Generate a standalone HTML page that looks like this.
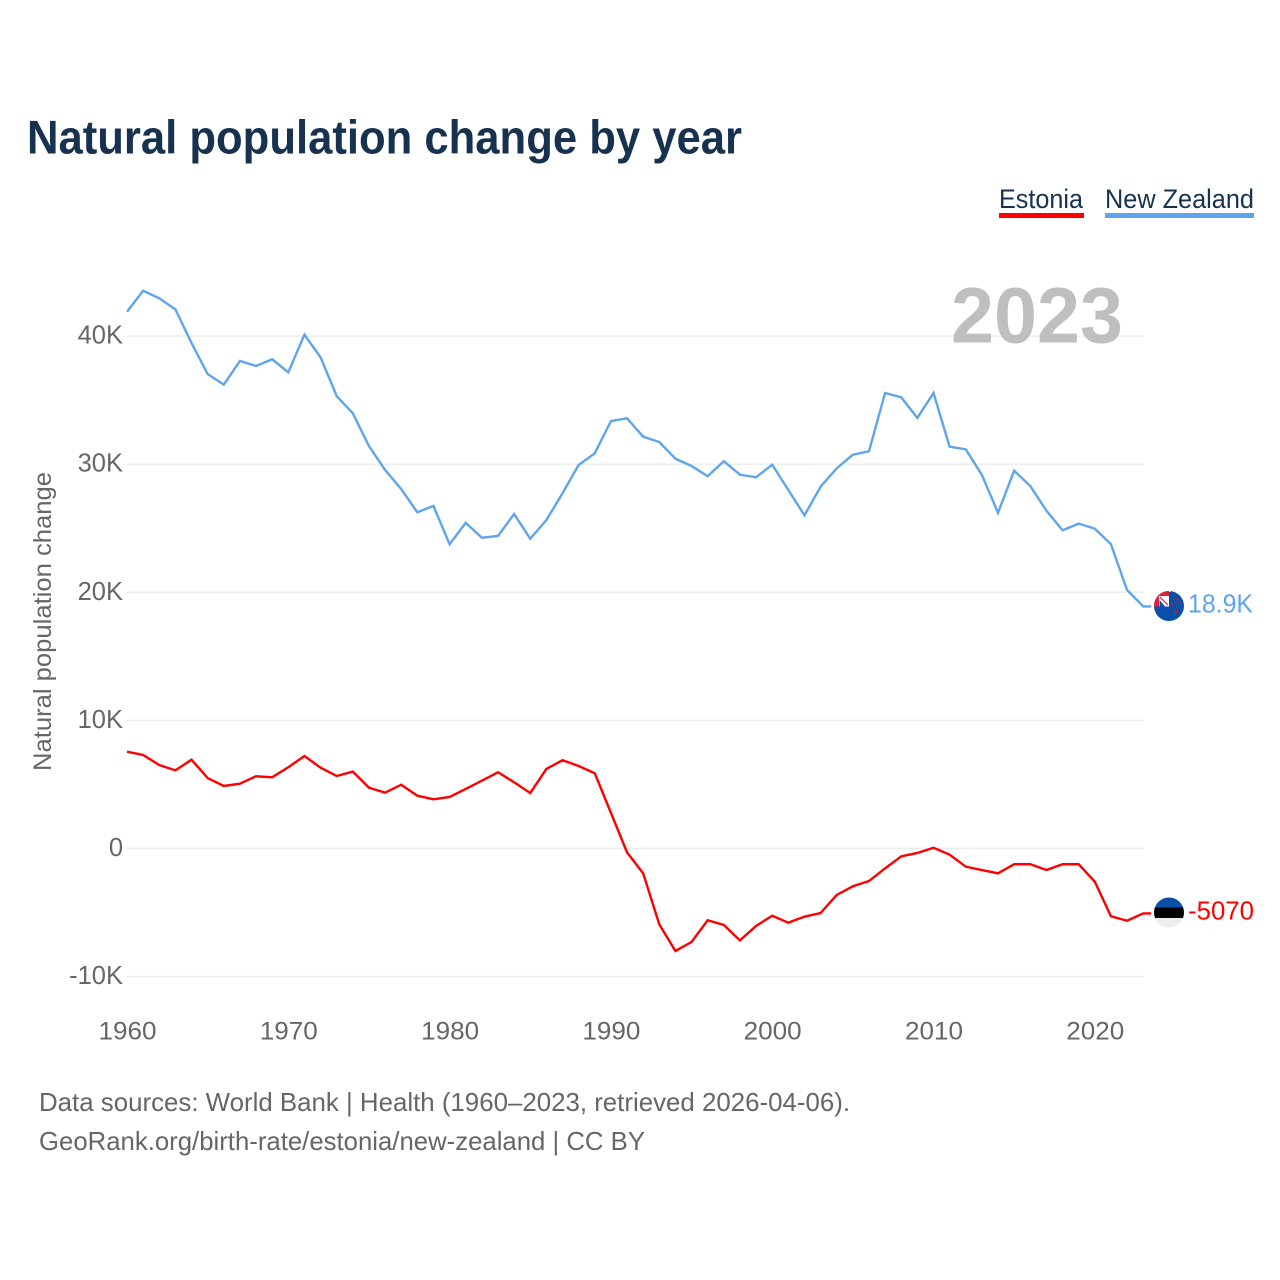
<!DOCTYPE html>
<html lang="en">
<head>
<meta charset="utf-8">
<title>Natural population change by year</title>
<style>
html,body{margin:0;padding:0;background:#fff;}
svg{display:block;font-family:"Liberation Sans",sans-serif;}
</style>
</head>
<body>
<svg id="chart" width="1280" height="1280" viewBox="0 0 1280 1280" xmlns="http://www.w3.org/2000/svg">
  <defs>
    <clipPath id="flag-clip-nz"><circle cx="1169" cy="606" r="15"/></clipPath>
    <clipPath id="flag-clip-ee"><circle cx="1169" cy="912.5" r="15"/></clipPath>
  </defs>
  <text x="27" y="153.5" font-size="47" font-weight="700" fill="#17324f" textLength="715" lengthAdjust="spacingAndGlyphs">Natural population change by year</text>

  <g>
    <g>
      <text x="999" y="208" font-size="27" fill="#17324f" textLength="84" lengthAdjust="spacingAndGlyphs">Estonia</text>
      <rect x="999" y="213" width="85" height="5" fill="#ff0000"/>
    </g>
    <g>
      <text x="1105" y="208" font-size="27" fill="#17324f" textLength="149" lengthAdjust="spacingAndGlyphs">New Zealand</text>
      <rect x="1105" y="213" width="149" height="5" fill="#5fa5ec"/>
    </g>
  </g>

  <g id="grid"></g>
  <g id="y-ticks"></g>
  <g id="x-ticks"></g>

  <text transform="translate(51,771) rotate(-90)" font-size="25" fill="#666666" textLength="299" lengthAdjust="spacingAndGlyphs">Natural population change</text>

  <text x="951" y="342.5" font-size="79" font-weight="700" fill="#bfbfbf" textLength="172" lengthAdjust="spacingAndGlyphs">2023</text>

  <g id="series"></g>

  <g clip-path="url(#flag-clip-nz)">
    <rect x="1153" y="590" width="32" height="32" fill="#0b50a8"/>
    <rect x="1168.5" y="590" width="2" height="2" fill="#ffffff"/>
    <rect x="1153" y="591" width="16" height="15.5" fill="#e0203a"/>
    <rect x="1159" y="596" width="10" height="10.5" fill="#ffffff"/>
    <path d="M1159.5 600L1159.5 606.5L1165 606.5Z" fill="#0b50a8"/>
    <path d="M1160 597L1168 605" stroke="#e0203a" stroke-width="1.2"/>
    <circle cx="1176" cy="599" r="1.1" fill="#d8142f"/>
    <circle cx="1172.5" cy="604" r="1.1" fill="#d8142f"/>
    <circle cx="1179.5" cy="603" r="1.1" fill="#d8142f"/>
    <circle cx="1176" cy="611.5" r="1.5" fill="#d8142f"/>
  </g>
  <g clip-path="url(#flag-clip-ee)">
    <rect x="1153" y="897" width="32" height="11" fill="#0b50a8"/>
    <rect x="1153" y="907.5" width="32" height="10.5" fill="#000000"/>
    <rect x="1153" y="918" width="32" height="11" fill="#eeeeee"/>
  </g>

  <text id="label-nz" x="1188" y="612.5" font-size="25.5" fill="#5fa5ec" textLength="65" lengthAdjust="spacingAndGlyphs"></text>
  <text id="label-ee" x="1188" y="919.5" font-size="25.5" fill="#ff0000" textLength="66" lengthAdjust="spacingAndGlyphs"></text>

  <text x="39" y="1111" font-size="26" fill="#666666" textLength="811" lengthAdjust="spacingAndGlyphs">Data sources: World Bank | Health (1960–2023, retrieved 2026-04-06).</text>
  <text x="39" y="1150" font-size="26" fill="#666666" textLength="606" lengthAdjust="spacingAndGlyphs">GeoRank.org/birth-rate/estonia/new-zealand | CC BY</text>
</svg>
<script>
const firstYear = 1960;
const xTickYears = [1960, 1970, 1980, 1990, 2000, 2010, 2020];
const yTickValues = [-10000, 0, 10000, 20000, 30000, 40000];
const yTickLabels = ["-10K", "0", "10K", "20K", "30K", "40K"];
const newZealandValues = [41900, 43540, 42950, 42090, 39460, 37040, 36210, 38060, 37670, 38190, 37170, 40110, 38350, 35320, 33970, 31420, 29550, 28060, 26250, 26740, 23750, 25430, 24260, 24400, 26110, 24180, 25640, 27730, 29940, 30850, 33370, 33580, 32150, 31730, 30430, 29860, 29060, 30230, 29180, 28980, 29960, 27990, 26010, 28240, 29680, 30740, 31010, 35560, 35220, 33610, 35560, 31370, 31160, 29160, 26210, 29490, 28300, 26370, 24840, 25360, 24970, 23750, 20180, 18900];
const estoniaValues = [7560, 7300, 6520, 6100, 6930, 5500, 4880, 5060, 5640, 5560, 6340, 7220, 6310, 5660, 6000, 4750, 4360, 4980, 4120, 3840, 4020, 4650, 5290, 5950, 5170, 4330, 6210, 6890, 6440, 5870, 2790, -300, -1940, -5920, -8000, -7300, -5600, -5970, -7170, -6050, -5250, -5790, -5320, -5040, -3630, -2950, -2540, -1550, -610, -350, 60, -480, -1420, -1680, -1940, -1230, -1230, -1680, -1230, -1230, -2590, -5290, -5640, -5070];
const newZealandEndLabel = "18.9K";
const estoniaEndLabel = "-5070";

const NS = "http://www.w3.org/2000/svg";
const xScale = function (year) { return 127 + (year - firstYear) * 16.13; };
const yScale = function (value) { return 848.5 - value * 0.01281; };

const gridGroup = document.getElementById("grid");
const yTickGroup = document.getElementById("y-ticks");
const xTickGroup = document.getElementById("x-ticks");
const seriesGroup = document.getElementById("series");

yTickValues.forEach(function (value, i) {
  const line = document.createElementNS(NS, "line");
  line.setAttribute("x1", 127);
  line.setAttribute("x2", 1144);
  line.setAttribute("y1", yScale(value));
  line.setAttribute("y2", yScale(value));
  line.setAttribute("stroke", "#eeeeee");
  line.setAttribute("stroke-width", "1.5");
  
  
  gridGroup.appendChild(line);

  const label = document.createElementNS(NS, "text");
  label.setAttribute("x", 123);
  label.setAttribute("y", yScale(value) + 7.5);
  label.setAttribute("text-anchor", "end");
  label.setAttribute("font-size", "25.5");
  label.setAttribute("fill", "#666666");
  label.textContent = yTickLabels[i];
  
  
  yTickGroup.appendChild(label);
});

xTickYears.forEach(function (year) {
  const label = document.createElementNS(NS, "text");
  label.setAttribute("x", xScale(year) + 0.5);
  label.setAttribute("y", 1039.5);
  label.setAttribute("text-anchor", "middle");
  label.setAttribute("font-size", "25");
  label.setAttribute("fill", "#666666");
  label.setAttribute("textLength", "58");
  label.setAttribute("lengthAdjust", "spacingAndGlyphs");
  label.textContent = String(year);
  
  
  xTickGroup.appendChild(label);
});

function pathFrom(values) {
  const parts = values.map(function (value, i) {
    return xScale(firstYear + i).toFixed(2) + "," + yScale(value).toFixed(2);
  });
  const lastY = yScale(values[values.length - 1]).toFixed(2);
  return { points: parts.join(" "), lastY: lastY, lastX: xScale(firstYear + values.length - 1).toFixed(2) };
}

const nzPath = pathFrom(newZealandValues);
const nzLine = document.createElementNS(NS, "polyline");
nzLine.setAttribute("points", nzPath.points + " " + (Number(nzPath.lastX) + 8) + "," + nzPath.lastY);
nzLine.setAttribute("fill", "none");
nzLine.setAttribute("stroke", "#5fa5ec");
nzLine.setAttribute("stroke-width", "2.4");
nzLine.setAttribute("stroke-linejoin", "miter");


seriesGroup.appendChild(nzLine);

const eePath = pathFrom(estoniaValues);
const eeLine = document.createElementNS(NS, "polyline");
eeLine.setAttribute("points", eePath.points + " " + (Number(eePath.lastX) + 8) + "," + eePath.lastY);
eeLine.setAttribute("fill", "none");
eeLine.setAttribute("stroke", "#ff0000");
eeLine.setAttribute("stroke-width", "2.4");
eeLine.setAttribute("stroke-linejoin", "miter");


seriesGroup.appendChild(eeLine);

document.getElementById("label-nz").textContent = newZealandEndLabel;
document.getElementById("label-ee").textContent = estoniaEndLabel;
</script>
</body>
</html>
